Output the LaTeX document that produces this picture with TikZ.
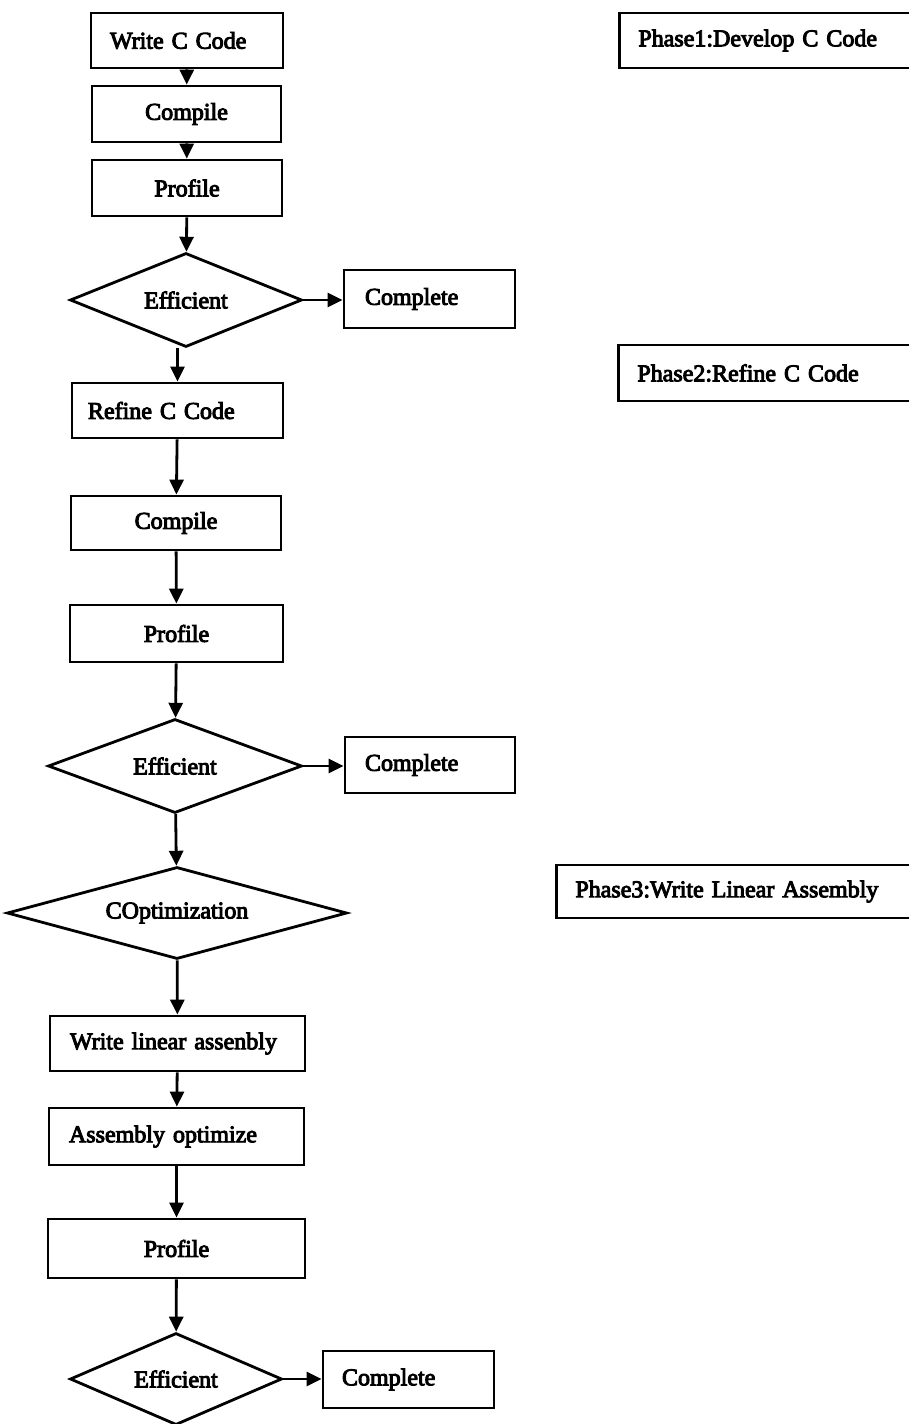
\documentclass[tikz,border=0pt]{standalone}
\usepackage{fontspec}
\setmainfont{Liberation Serif}[FakeBold=4]
\usetikzlibrary{shapes.geometric,arrows.meta}
\begin{document}
\begin{tikzpicture}[x=1pt,y=-1pt,
  every node/.style={font=\fontsize{24}{28}\selectfont},
  box/.style={draw, line width=2.8pt, rectangle, inner sep=0pt},
  lbox/.style={box, align=left},
  dia/.style={draw, line width=2.8pt, diamond, inner sep=0pt},
  arr/.style={line width=2.8pt, -{Triangle[length=15pt,width=14pt]}},
  phase/.style={draw, line width=2.8pt, rectangle, anchor=west, inner ysep=0pt,
    text width=340pt, inner xsep=19pt, align=left}
]
\useasboundingbox (0,0) rectangle (909,1424);
\clip (0,0) rectangle (909,1424);

% Phase 1: develop C code
\node[lbox, text width=154, inner xsep=19, minimum height=55] (w1) at (187,40.5) {Write C Code};
\node[box, minimum width=189, minimum height=56] (c1) at (186.5,114) {Compile};
\node[box, minimum width=190, minimum height=56] (p1) at (187,188) {Profile};
\node[dia, aspect=2.47, minimum width=232, minimum height=94] (d1) at (186,300) {Efficient};
\node[lbox, text width=129, inner xsep=21, minimum height=58] (k1) at (429.5,299) {Complete};

% Phase 2: refine C code
\node[lbox, text width=179, inner xsep=16, minimum height=55] (r1) at (177.5,410.5) {Refine C Code};
\node[box, minimum width=210, minimum height=54] (c2) at (176,523) {Compile};
\node[box, minimum width=213, minimum height=57] (p2) at (176.5,633.5) {Profile};
\node[dia, aspect=2.7, minimum width=254, minimum height=94] (d2) at (175,766) {Efficient};
\node[lbox, text width=130, inner xsep=20, minimum height=56] (k2) at (430,765) {Complete};

% Phase 3: linear assembly
\node[dia, aspect=3.7, minimum width=340, minimum height=92] (co) at (177,913) {COptimization};
\node[lbox, text width=215, inner xsep=20, minimum height=55] (wl) at (177.5,1043.5) {Write linear assenbly};
\node[lbox, text width=215, inner xsep=20, minimum height=57] (ao) at (176.5,1136.5) {Assembly optimize};
\node[box, minimum width=257, minimum height=59] (p3) at (176.5,1248.5) {Profile};
\node[dia, aspect=2.3, minimum width=212, minimum height=92] (d3) at (176,1379) {Efficient};
\node[lbox, text width=133, inner xsep=19, minimum height=57] (k3) at (408.5,1379.5) {Complete};

% Phase labels
\node[phase, minimum height=55] (ph1) at (618,40.5) {Phase1:Develop C Code};
\node[phase, minimum height=56] (ph2) at (617,373) {Phase2:Refine C Code};
\node[phase, minimum height=53] (ph3) at (555,891.5) {Phase3:Write Linear Assembly};

% Flow
\draw[arr] (w1) -- (c1);
\draw[arr] (c1) -- (p1);
\draw[arr] (p1) -- (d1);
\draw[arr] (d1.east) -- (k1.west |- d1.east);
\draw[arr] (d1.south -| r1.north) -- (r1.north);
\draw[arr] (r1) -- (c2);
\draw[arr] (c2) -- (p2);
\draw[arr] (p2) -- (d2);
\draw[arr] (d2.east) -- (k2.west |- d2.east);
\draw[arr] (d2) -- (co);
\draw[arr] (co) -- (wl);
\draw[arr] (wl) -- (ao);
\draw[arr] (ao) -- (p3);
\draw[arr] (p3) -- (d3);
\draw[arr] (d3.east) -- (k3.west |- d3.east);
\end{tikzpicture}
\end{document}
